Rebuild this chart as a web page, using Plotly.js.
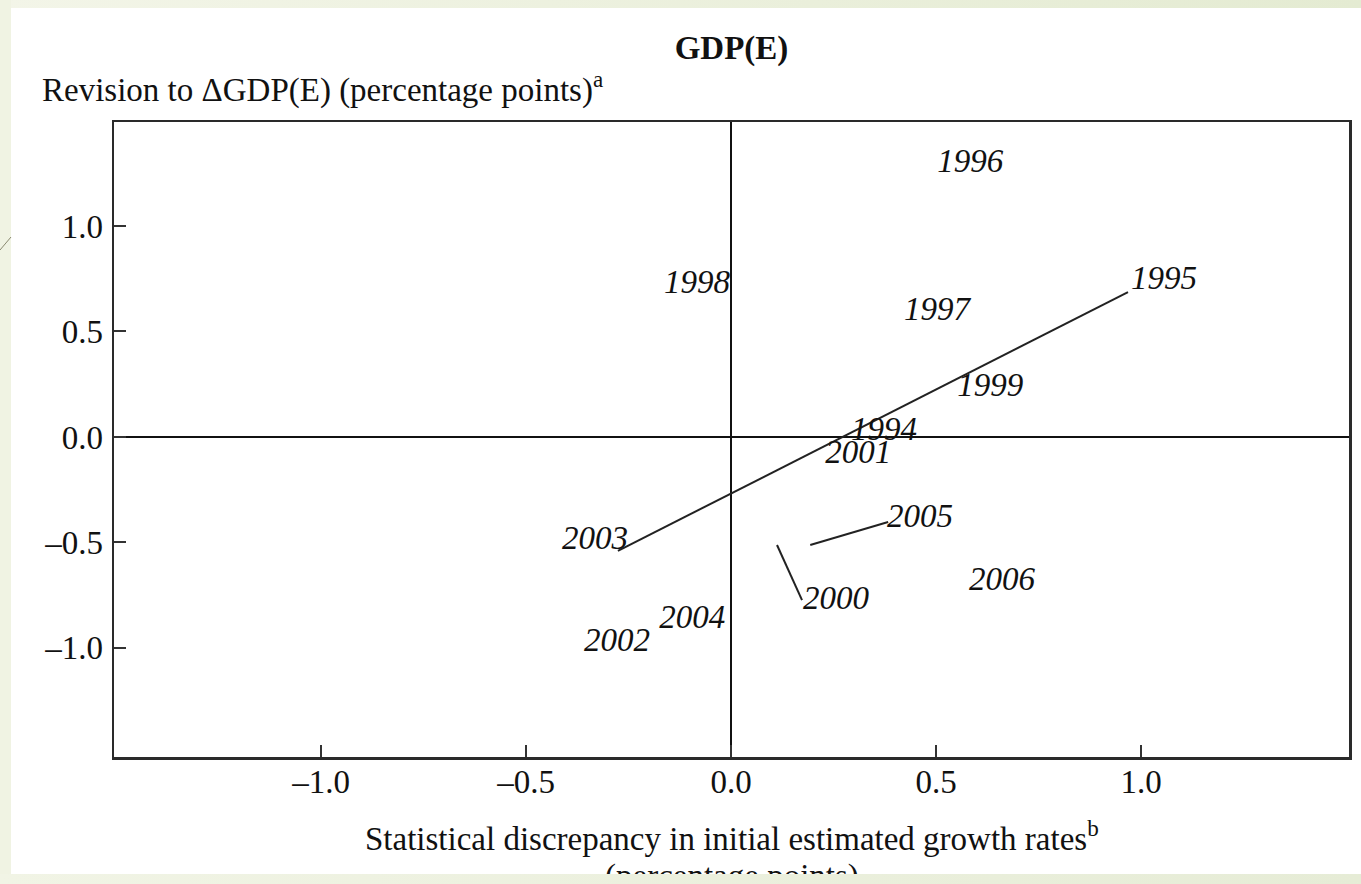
<!DOCTYPE html>
<html>
<head>
<meta charset="utf-8">
<script src="https://cdn.plot.ly/plotly-3.0.1.min.js"></script>
<style>
html,body{margin:0;padding:0;width:1361px;height:884px;overflow:hidden;background:#fff;}
#chart{position:absolute;left:0;top:0;width:1361px;height:884px;}
.band{position:absolute;z-index:10;}
</style>
</head>
<body>
<div id="chart"></div>
<div class="band" style="left:0;top:0;width:1361px;height:8px;background:linear-gradient(to right,#f3f5e8,#e4ebd2);"></div>
<div class="band" style="left:0;top:0;width:11px;height:884px;background:#f0f3e3;"></div>
<div class="band" style="left:0;top:874px;width:1361px;height:10px;background:linear-gradient(to right,#f1f4e5,#e6ecd6);"></div>
<svg style="position:absolute;left:0;top:0;z-index:11;" width="20" height="260"><line x1="0" y1="250" x2="11" y2="237" stroke="#8a8a70" stroke-width="1"/></svg>
<script>
// Year labels and their positions (x: statistical discrepancy, y: revision)
const years = ["1996","1995","1998","1997","1999","1994","2001","2005","2003","2006","2000","2004","2002"];
const labelX = [0.583, 1.056, -0.083, 0.502, 0.632, 0.373, 0.310, 0.461, -0.332, 0.661, 0.256, -0.095, -0.278];
const labelY = [1.297, 0.739, 0.720, 0.592, 0.232, 0.024, -0.085, -0.389, -0.493, -0.687, -0.777, -0.867, -0.976];

// Fitted line (2003 to 1995)
const fitX = [-0.276, 0.968];
const fitY = [-0.540, 0.687];
// Leader line for 2000
const lead2000X = [0.112, 0.173];
const lead2000Y = [-0.512, -0.773];
// Leader line for 2005
const lead2005X = [0.193, 0.383];
const lead2005Y = [-0.512, -0.403];

// Ticks
const tickVals = [-1.0, -0.5, 0.0, 0.5, 1.0];
const tickText = ["\u20131.0", "\u20130.5", "0.0", "0.5", "1.0"];

const serif = "Liberation Serif, Times New Roman, serif";
const lineStyle = {color: "#222", width: 2};

const traces = [
  {x: fitX, y: fitY, mode: "lines", line: lineStyle, hoverinfo: "skip"},
  {x: lead2000X, y: lead2000Y, mode: "lines", line: lineStyle, hoverinfo: "skip"},
  {x: lead2005X, y: lead2005Y, mode: "lines", line: lineStyle, hoverinfo: "skip"},
  {x: labelX, y: labelY, mode: "text", text: years.map(t => "<i>" + t + "</i>"),
   textposition: "middle center", textfont: {family: serif, size: 33, color: "#111"}, hoverinfo: "skip"}
];

const axisCommon = {
  showgrid: false,
  showline: true, mirror: true, linecolor: "#2a2a2a", linewidth: 2.5,
  zeroline: true, zerolinecolor: "#111", zerolinewidth: 2,
  ticks: "inside", ticklen: 12, tickwidth: 2, tickcolor: "#333",
  tickmode: "array", tickvals: tickVals, ticktext: tickText,
  tickfont: {family: serif, size: 33, color: "#111"},
  fixedrange: true
};

const layout = {
  width: 1361, height: 884,
  paper_bgcolor: "#fff", plot_bgcolor: "#fff",
  showlegend: false,
  margin: {l: 114, r: 12, t: 122, b: 127},
  title: {text: "<b>GDP(E)</b>", x: 0.5375, xanchor: "center", yref: "container", y: 1 - 47/884, yanchor: "middle",
          font: {family: serif, size: 33, color: "#111"}},
  xaxis: Object.assign({}, axisCommon, {range: [-1.505, 1.507], ticklabelstandoff: -6}),
  yaxis: Object.assign({}, axisCommon, {range: [-1.517, 1.493], ticklabelstandoff: 2}),
  annotations: [
    {text: "Revision to \u0394GDP(E) (percentage points)<sup>a</sup>", xref: "paper", yref: "paper",
     x: (40 - 114) / 1235, xanchor: "left", y: (757 - 87) / 635, yanchor: "middle", showarrow: false,
     font: {family: serif, size: 33, color: "#111"}},
    {text: "Statistical discrepancy in initial estimated growth rates<sup>b</sup>",
     xref: "paper", yref: "paper", x: 0.5, xanchor: "center", y: (757 - 836) / 635, yanchor: "middle",
     showarrow: false, font: {family: serif, size: 33, color: "#111"}},
    {text: "(percentage points)",
     xref: "paper", yref: "paper", x: 0.5, xanchor: "center", y: (757 - 876) / 635, yanchor: "middle",
     showarrow: false, font: {family: serif, size: 33, color: "#111"}}
  ]
};

Plotly.newPlot("chart", traces, layout, {displayModeBar: false, staticPlot: true});
</script>
</body>
</html>
